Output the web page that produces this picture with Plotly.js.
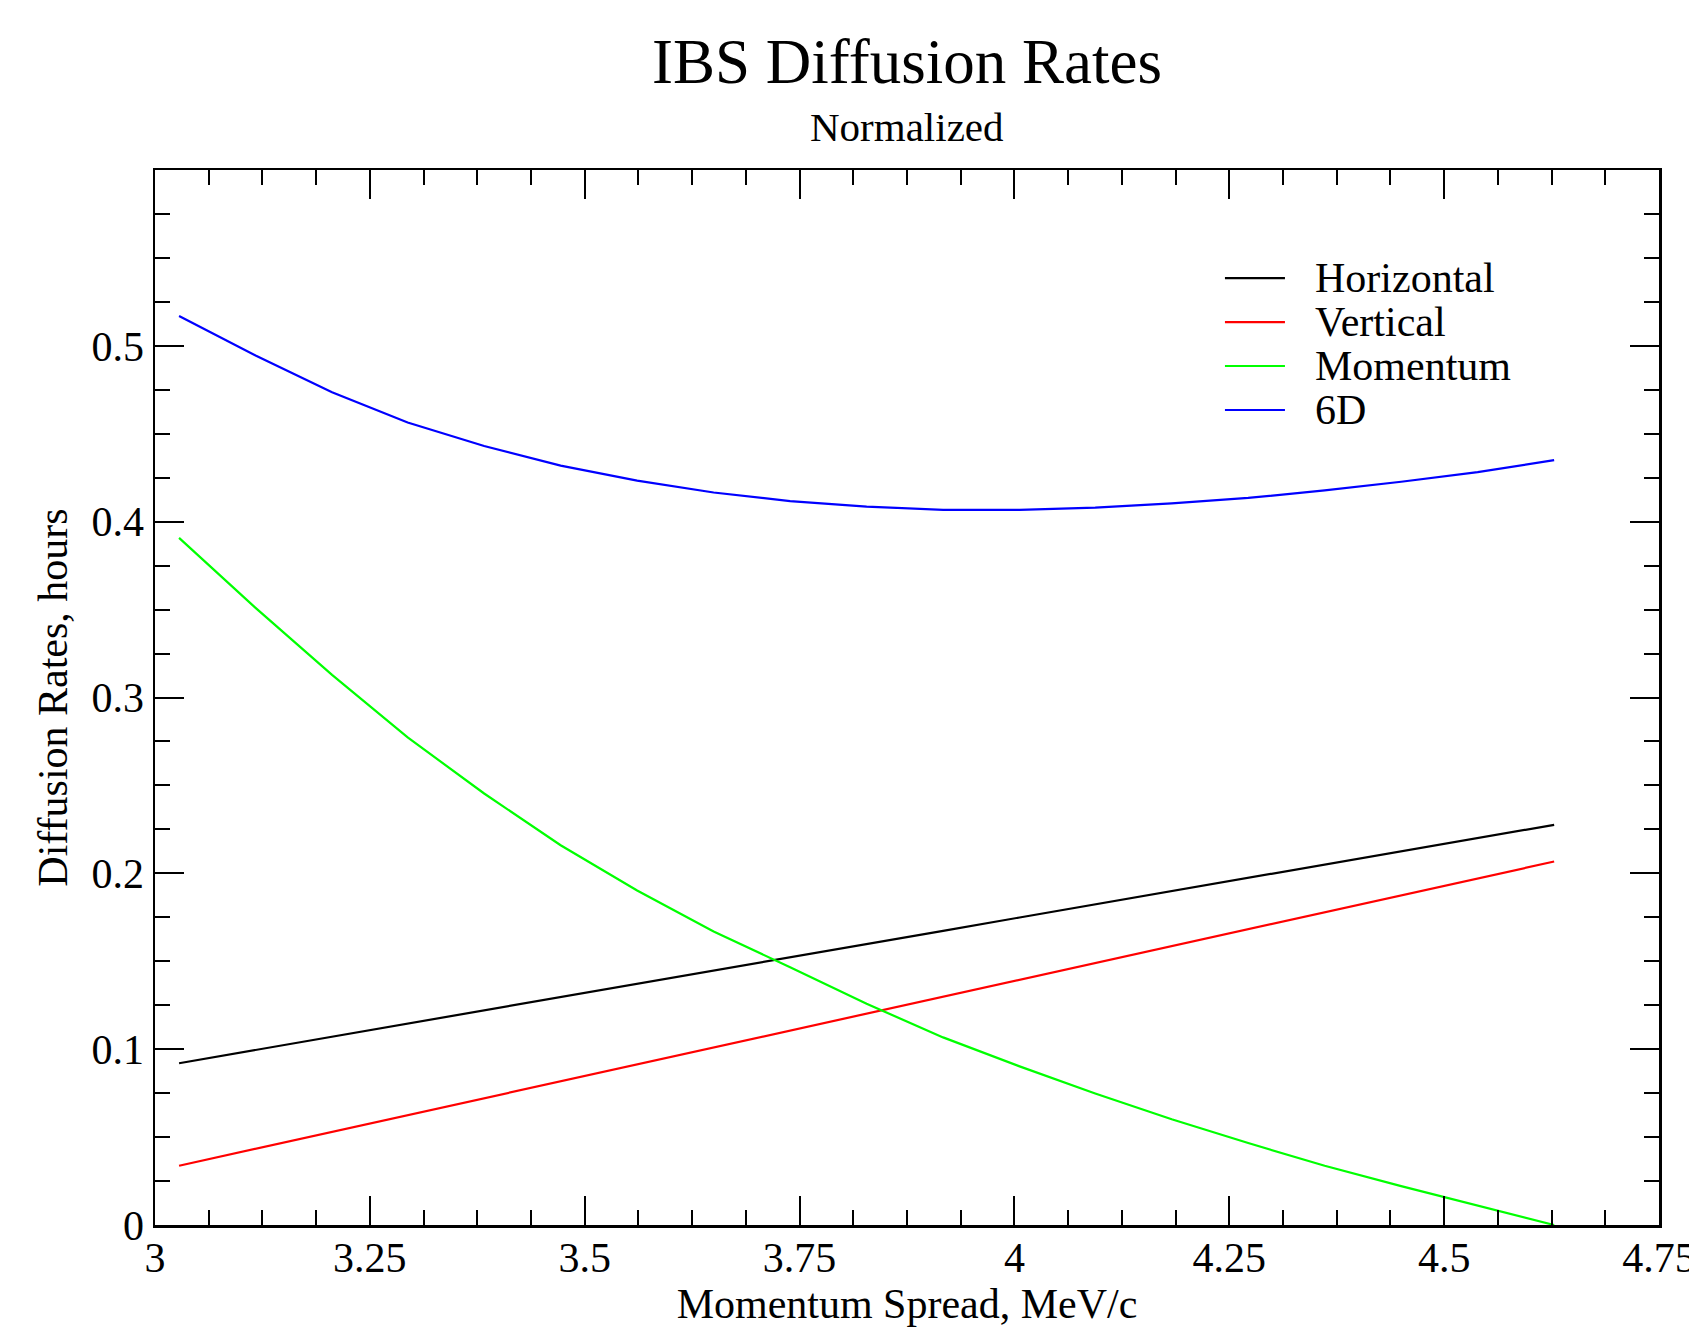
<!DOCTYPE html>
<html>
<head>
<meta charset="utf-8">
<script src="https://cdn.plot.ly/plotly-3.0.1.min.js"></script>
<style>html,body{margin:0;padding:0;background:#fff;}#chart{width:1689px;height:1327px;}</style>
</head>
<body>
<div id="chart"></div>
<script>
// Momentum spread (MeV/c)
const momentum = [3.028, 3.117, 3.206, 3.294, 3.383, 3.472, 3.561, 3.650, 3.739, 3.828,
                  3.917, 4.006, 4.094, 4.183, 4.272, 4.361, 4.450, 4.539, 4.628];
// Diffusion rates (hours), normalized
const horizontal = [0.092, 0.0995, 0.107, 0.1146, 0.1221, 0.1297, 0.1372, 0.1447, 0.1523, 0.1598,
                    0.1673, 0.1749, 0.1824, 0.1899, 0.1975, 0.205, 0.2125, 0.2201, 0.2276];
const vertical = [0.0337, 0.0433, 0.0529, 0.0625, 0.0721, 0.0817, 0.0914, 0.101, 0.1106, 0.1202,
                  0.1298, 0.1394, 0.149, 0.1586, 0.1683, 0.1779, 0.1875, 0.1971, 0.2067];
const momentumRate = [0.3908, 0.351, 0.3129, 0.2773, 0.2454, 0.216, 0.1902, 0.1669, 0.1466, 0.1258,
                      0.1067, 0.0902, 0.0748, 0.0601, 0.0466, 0.0337, 0.0221, 0.011, 0.0];
const sixD = [0.517, 0.4945, 0.4736, 0.4564, 0.443, 0.4319, 0.4233, 0.4166, 0.4117, 0.4086,
              0.4067, 0.4067, 0.408, 0.4104, 0.4135, 0.4178, 0.4227, 0.4282, 0.435];

const seriesNames = ["Horizontal", "Vertical", "Momentum", "6D"];
const seriesColors = ["#000000", "#ff0000", "#00ff00", "#0000ff"];
const seriesValues = [horizontal, vertical, momentumRate, sixD];

const xTickVals = [3, 3.25, 3.5, 3.75, 4, 4.25, 4.5, 4.75];
const xTickText = ["3", "3.25", "3.5", "3.75", "4", "4.25", "4.5", "4.75"];
const yTickVals = [0, 0.1, 0.2, 0.3, 0.4, 0.5];
const yTickText = ["0", "0.1", "0.2", "0.3", "0.4", "0.5"];

const FONT = "Liberation Serif, Times New Roman, serif";

const traces = seriesNames.map((name, i) => ({
  x: momentum,
  y: seriesValues[i],
  name: name,
  type: "scatter",
  mode: "lines",
  line: {color: seriesColors[i], width: 2.2},
  showlegend: false
}));

// Manual legend (line sample + label), built from the series arrays
const legendX0 = 0.7114, legendX1 = 0.7513, legendTextX = 0.7700;
const legendY = [0.8976, 0.8559, 0.8142, 0.7725];
const shapes = seriesNames.map((n, i) => ({
  type: "line", xref: "paper", yref: "paper",
  x0: legendX0, x1: legendX1, y0: legendY[i], y1: legendY[i],
  line: {color: seriesColors[i], width: 2.2}
}));
const annotations = seriesNames.map((n, i) => ({
  text: n, xref: "paper", yref: "paper", x: legendTextX, y: legendY[i],
  xanchor: "left", yanchor: "middle", showarrow: false,
  font: {family: FONT, size: 42, color: "#000"}
}));
annotations.push({
  text: "Normalized", xref: "paper", yref: "paper", x: 0.5, y: 1.0408,
  xanchor: "center", yanchor: "middle", showarrow: false,
  font: {family: FONT, size: 41, color: "#000"}
});

const axisCommon = {
  showgrid: false, zeroline: false,
  showline: true, linecolor: "#000", linewidth: 2.5,
  mirror: "allticks",
  ticks: "inside", ticklen: 29, tickwidth: 2, tickcolor: "#000",
  ticklabeloverflow: "allow",
  tickfont: {family: FONT, size: 42, color: "#000"}
};

const layout = {
  width: 1689, height: 1327,
  paper_bgcolor: "#fff", plot_bgcolor: "#fff",
  margin: {l: 155, r: 30, t: 170, b: 102},
  font: {family: FONT, color: "#000"},
  title: {
    text: "IBS Diffusion Rates",
    font: {family: FONT, size: 63, color: "#000"},
    x: 0.5, xanchor: "center", xref: "paper",
    y: 1 - 61 / 1327, yanchor: "middle", yref: "container"
  },
  xaxis: Object.assign({}, axisCommon, {
    range: [3, 4.75],
    tickvals: xTickVals, ticktext: xTickText,
    ticklabelstandoff: -6,
    minor: {dtick: 0.0625, tick0: 3, ticks: "inside", ticklen: 15, tickwidth: 2, tickcolor: "#000"},
    title: {text: "Momentum Spread, MeV/c", font: {family: FONT, size: 42, color: "#000"}, standoff: 8}
  }),
  yaxis: Object.assign({}, axisCommon, {
    range: [0, 0.6],
    tickvals: yTickVals, ticktext: yTickText,
    minor: {dtick: 0.025, tick0: 0, ticks: "inside", ticklen: 15, tickwidth: 2, tickcolor: "#000"},
    title: {text: "Diffusion Rates, hours", font: {family: FONT, size: 42, color: "#000"}, standoff: 11}
  }),
  shapes: shapes,
  annotations: annotations,
  showlegend: false
};

Plotly.newPlot("chart", traces, layout, {displayModeBar: false, staticPlot: true});
</script>
</body>
</html>
